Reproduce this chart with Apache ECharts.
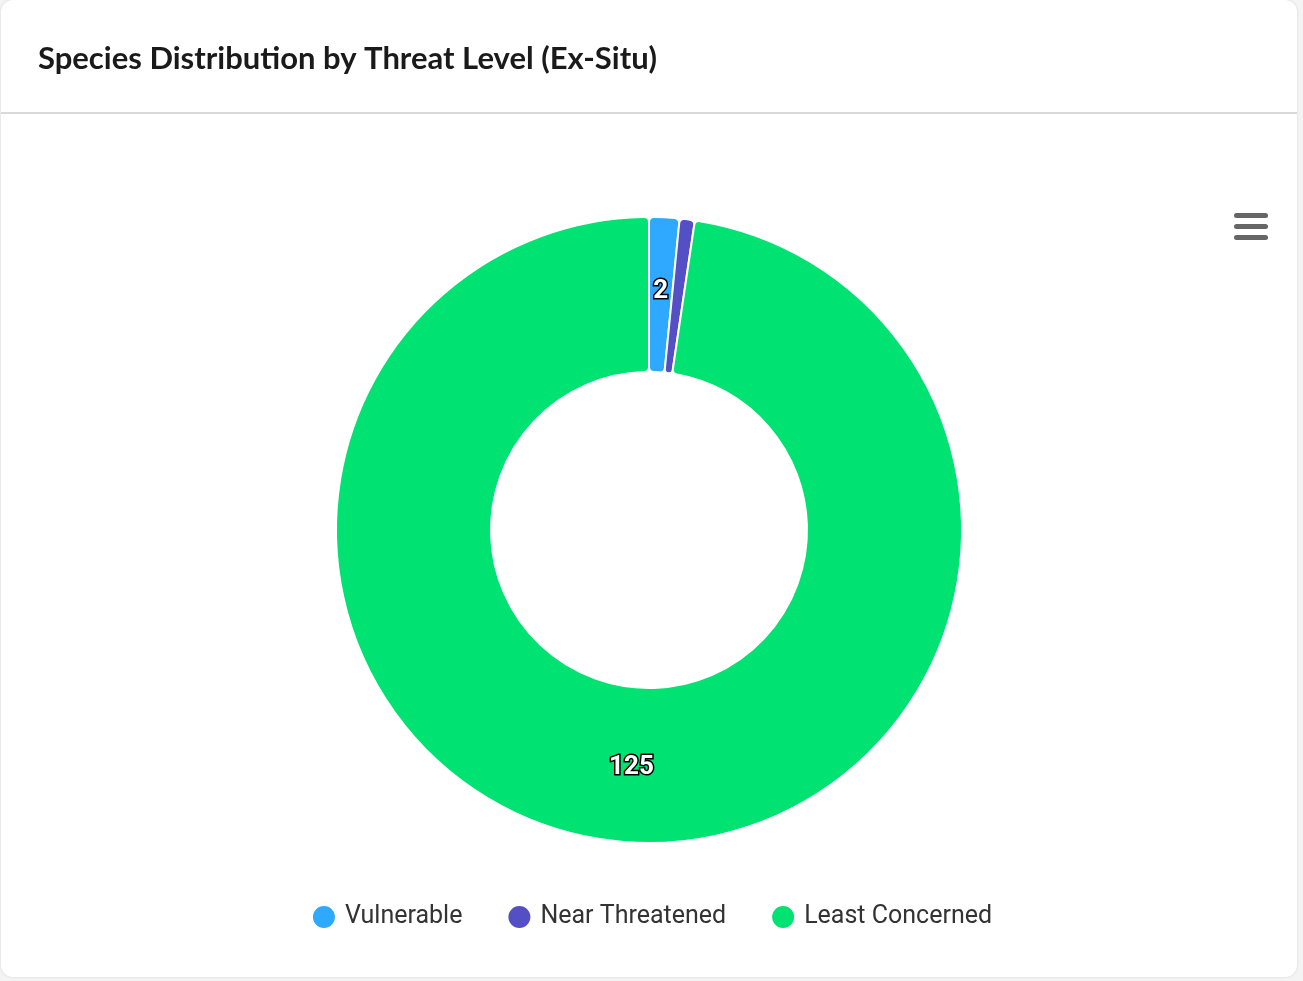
<!DOCTYPE html>
<html><head><meta charset="utf-8">
<script src="https://cdn.jsdelivr.net/npm/echarts@6/dist/echarts.min.js"></script>
<style>
html,body{margin:0;padding:0;background:#f4f4f4;}
#card{position:absolute;left:1px;top:0;width:1296px;height:977px;background:#fff;border-radius:12px;box-shadow:0 0 3px rgba(0,0,0,0.12);}
#c{position:absolute;left:0;top:0;width:1303px;height:981px;}
</style></head><body>
<div id="card"></div>
<div id="c"></div>
<script>
const categories = ["Vulnerable", "Near Threatened", "Least Concerned"];
const values = [2, 1, 125];
const colors = ["#2ea9ff", "#544fc5", "#00e272"];
const chart = echarts.init(document.getElementById('c'));
chart.setOption({
  animation:false,
  title:{text:"Species Distribution by Threat Level (Ex-Situ)",left:33,top:38,textStyle:{fontFamily:"Lato, 'Noto Sans'",fontSize:31,fontWeight:'bold',color:'#1a1a1a'}},
  graphic:[
    {type:'line',shape:{x1:1,y1:113,x2:1297,y2:113},style:{stroke:'#cccccc',lineWidth:1.5}},
    {type:'rect',shape:{x:1234,y:213,width:34,height:5,r:2.5},style:{fill:'#666'}},
    {type:'rect',shape:{x:1234,y:224,width:34,height:5,r:2.5},style:{fill:'#666'}},
    {type:'rect',shape:{x:1234,y:235,width:34,height:5,r:2.5},style:{fill:'#666'}}
  ],
  legend:{bottom:46,left:'center',itemGap:44,icon:'circle',itemWidth:24,itemHeight:24,
    textStyle:{fontFamily:"Roboto, 'Noto Sans'",fontSize:25,color:'#333',padding:[0,0,0,4]}},
  series:[{type:'pie',center:[649,530],radius:[158,313],startAngle:90,clockwise:true,
    itemStyle:{borderColor:'#fff',borderWidth:2,borderRadius:5},
    label:{show:true,position:'inside',formatter:'{c}',fontFamily:"Roboto, Arial",fontSize:26,fontWeight:'bold',color:'#fff',textBorderColor:'#000',textBorderWidth:3},
    labelLine:{show:false},
    data:categories.map((n,i)=>({name:n,value:values[i],itemStyle:{color:colors[i]}}))
  }]
});
</script></body></html>
